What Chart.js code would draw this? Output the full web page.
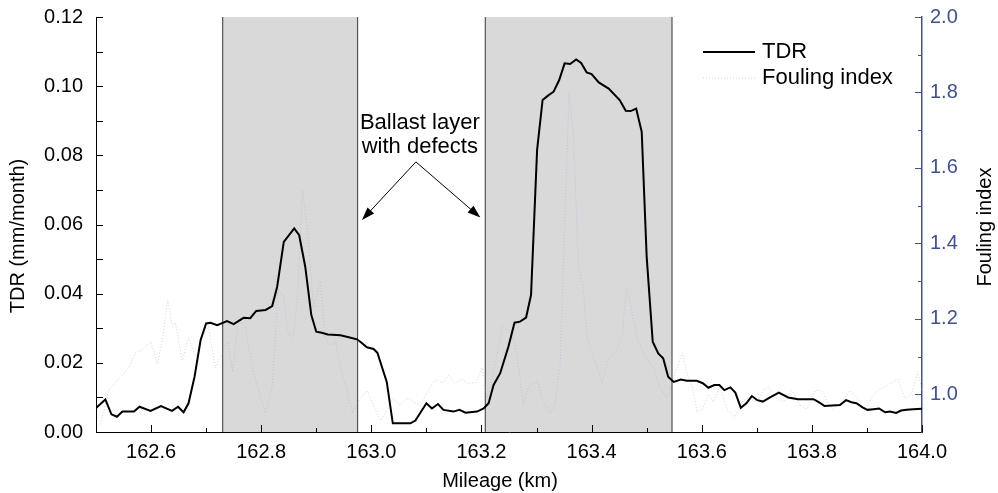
<!DOCTYPE html>
<html>
<head>
<meta charset="utf-8">
<script src="https://cdn.jsdelivr.net/npm/chart.js@4.4.1/dist/chart.umd.min.js"></script>
<style>
    html, body { margin: 0; padding: 0; background: #fff; }
</style>
</head>
<body>
<canvas id="myChart" width="998" height="493"></canvas>
<script>
// TDR curve (km, mm/month)
const tdrMileage = [
    162.500, 162.517, 162.528, 162.538, 162.548, 162.569, 162.579, 162.599, 162.618, 162.638,
    162.649, 162.659, 162.668, 162.679, 162.690, 162.700, 162.708, 162.720, 162.738, 162.750,
    162.768, 162.780, 162.791, 162.808, 162.820, 162.829, 162.841, 162.860, 162.869, 162.880,
    162.891, 162.900, 162.910, 162.921, 162.944, 162.959, 162.974, 162.980, 162.992, 163.004,
    163.011, 163.028, 163.039, 163.071, 163.080, 163.100, 163.110, 163.121, 163.131, 163.149,
    163.160, 163.171, 163.192, 163.204, 163.213, 163.222, 163.234, 163.249, 163.260, 163.270,
    163.281, 163.290, 163.301, 163.311, 163.322, 163.331, 163.341, 163.351, 163.361, 163.372,
    163.381, 163.391, 163.400, 163.413, 163.431, 163.451, 163.462, 163.471, 163.481, 163.491,
    163.500, 163.511, 163.521, 163.530, 163.539, 163.549, 163.562, 163.573, 163.591, 163.602,
    163.612, 163.623, 163.632, 163.641, 163.652, 163.661, 163.671, 163.681, 163.691, 163.701,
    163.711, 163.724, 163.740, 163.757, 163.775, 163.803, 163.814, 163.823, 163.851, 163.862,
    163.872, 163.881, 163.892, 163.901, 163.912, 163.922, 163.933, 163.942, 163.953, 163.962,
    163.972, 163.984, 164.000
];
const tdrValues = [
    0.0069, 0.0094, 0.0051, 0.0044, 0.0059, 0.0059, 0.0073, 0.0061, 0.0075, 0.0061,
    0.0073, 0.0057, 0.0083, 0.0160, 0.0266, 0.0314, 0.0316, 0.0309, 0.0321, 0.0312,
    0.0330, 0.0329, 0.0350, 0.0353, 0.0364, 0.0420, 0.0550, 0.0589, 0.0569, 0.0478,
    0.0338, 0.0290, 0.0287, 0.0282, 0.0280, 0.0274, 0.0268, 0.0261, 0.0245, 0.0240,
    0.0229, 0.0145, 0.0025, 0.0025, 0.0033, 0.0083, 0.0068, 0.0081, 0.0064, 0.0059,
    0.0064, 0.0056, 0.0059, 0.0068, 0.0083, 0.0136, 0.0170, 0.0247, 0.0316, 0.0319,
    0.0331, 0.0396, 0.0815, 0.0960, 0.0974, 0.0984, 0.1017, 0.1066, 0.1064, 0.1077,
    0.1067, 0.1040, 0.1035, 0.1011, 0.0993, 0.0960, 0.0929, 0.0928, 0.0935, 0.0868,
    0.0507, 0.0261, 0.0227, 0.0213, 0.0160, 0.0145, 0.0152, 0.0148, 0.0148, 0.0141,
    0.0128, 0.0136, 0.0136, 0.0121, 0.0129, 0.0114, 0.0070, 0.0083, 0.0104, 0.0092,
    0.0088, 0.0100, 0.0114, 0.0100, 0.0095, 0.0095, 0.0085, 0.0075, 0.0078, 0.0092,
    0.0086, 0.0083, 0.0071, 0.0064, 0.0066, 0.0068, 0.0057, 0.0059, 0.0055, 0.0062,
    0.0064, 0.0066, 0.0067
];

// Fouling index curve (km, -)
const foulMileage = [
    162.508, 162.523, 162.559, 162.572, 162.586, 162.599, 162.612, 162.621, 162.630, 162.639,
    162.644, 162.657, 162.668, 162.681, 162.693, 162.704, 162.717, 162.739, 162.748, 162.759,
    162.771, 162.784, 162.795, 162.808, 162.820, 162.831, 162.840, 162.849, 162.858, 162.866,
    162.875, 162.884, 162.895, 162.907, 162.916, 162.925, 162.935, 162.944, 162.956, 162.966,
    162.975, 162.980, 162.993, 163.004, 163.016, 163.025, 163.040, 163.052, 163.065, 163.076,
    163.089, 163.103, 163.116, 163.129, 163.140, 163.152, 163.165, 163.174, 163.189, 163.201,
    163.210, 163.225, 163.238, 163.247, 163.258, 163.267, 163.276, 163.283, 163.292, 163.303,
    163.312, 163.325, 163.334, 163.343, 163.349, 163.359, 163.367, 163.376, 163.385, 163.392,
    163.403, 163.419, 163.430, 163.446, 163.456, 163.463, 163.470, 163.483, 163.494, 163.512,
    163.524, 163.537, 163.548, 163.565, 163.574, 163.583, 163.592, 163.601, 163.612, 163.621,
    163.633, 163.646, 163.660, 163.673, 163.684, 163.700, 163.711, 163.721, 163.733, 163.748,
    163.764, 163.779, 163.791, 163.806, 163.819, 163.828, 163.838, 163.855, 163.869, 163.882,
    163.896, 163.909, 163.920, 163.933, 163.945, 163.956, 163.969, 163.981, 163.992, 164.000
];
const foulValues = [
    0.92, 1.01, 1.07, 1.11, 1.12, 1.14, 1.08, 1.15, 1.25, 1.18,
    1.19, 1.09, 1.15, 1.10, 1.15, 1.18, 1.07, 1.14, 1.06, 1.20,
    1.18, 1.07, 1.01, 0.95, 1.02, 1.28, 1.26, 1.16, 1.15, 1.26,
    1.54, 1.44, 1.23, 1.30, 1.15, 1.13, 1.14, 1.07, 1.01, 0.95,
    0.98, 0.99, 1.01, 0.97, 0.93, 0.95, 0.99, 0.97, 0.99, 0.98,
    0.97, 1.01, 1.04, 1.03, 1.05, 1.03, 1.04, 1.03, 1.03, 1.07,
    0.99, 1.08, 1.18, 1.17, 1.15, 1.08, 0.97, 1.01, 1.03, 1.03,
    0.98, 0.95, 0.98, 1.08, 1.35, 1.80, 1.69, 1.34, 1.28, 1.15,
    1.10, 1.03, 1.09, 1.12, 1.16, 1.28, 1.24, 1.15, 1.11, 1.07,
    1.02, 0.99, 1.04, 1.11, 1.05, 1.02, 0.95, 0.96, 1.00, 0.98,
    1.02, 0.96, 0.94, 0.98, 0.99, 0.98, 1.01, 1.02, 0.99, 0.98,
    1.01, 0.97, 0.96, 1.01, 1.01, 0.98, 0.96, 0.98, 1.01, 0.99,
    0.96, 0.99, 1.01, 1.02, 1.03, 1.04, 0.99, 1.00, 1.06, 1.01
];

const xTicks = [162.6, 162.8, 163.0, 163.2, 163.4, 163.6, 163.8, 164.0];
const tdrTicks = [0, 0.02, 0.04, 0.06, 0.08, 0.10, 0.12];
const foulTicks = [1.0, 1.2, 1.4, 1.6, 1.8, 2.0];

// ballast sections with defects (km)
const defectZones = [[162.73, 162.975], [163.207, 163.546]];
const noteLines = ['Ballast layer', 'with defects'];

const FONT = 'Liberation Sans, Arial, sans-serif';
const BLUE = '#3e4fa3';
const FOUL_COLOR = 'rgba(175, 175, 215, 0.55)';

const shadePlugin = {
    id: 'shade',
    beforeDatasetsDraw(chart) {
        const { ctx, chartArea: a, scales: { x } } = chart;
        ctx.save();
        defectZones.forEach(([s, e]) => {
            const x0 = x.getPixelForValue(s);
            const x1 = x.getPixelForValue(e);
            ctx.fillStyle = '#d9d9d9';
            ctx.fillRect(x0, a.top, x1 - x0, a.bottom - a.top);
            ctx.strokeStyle = '#555';
            ctx.lineWidth = 1.2;
            ctx.beginPath();
            ctx.moveTo(x0, a.top); ctx.lineTo(x0, a.bottom);
            ctx.moveTo(x1, a.top); ctx.lineTo(x1, a.bottom);
            ctx.stroke();
        });
        ctx.restore();
    }
};

function arrow(ctx, x0, y0, x1, y1) {
    const ang = Math.atan2(y1 - y0, x1 - x0);
    const L = 13, W = 4.5;
    ctx.beginPath();
    ctx.moveTo(x0, y0);
    ctx.lineTo(x1 - Math.cos(ang) * L * 0.8, y1 - Math.sin(ang) * L * 0.8);
    ctx.stroke();
    ctx.beginPath();
    ctx.moveTo(x1, y1);
    ctx.lineTo(x1 - Math.cos(ang) * L - Math.sin(ang) * W, y1 - Math.sin(ang) * L + Math.cos(ang) * W);
    ctx.lineTo(x1 - Math.cos(ang) * L + Math.sin(ang) * W, y1 - Math.sin(ang) * L - Math.cos(ang) * W);
    ctx.closePath();
    ctx.fill();
}

function vText(ctx, text, x, y) {
    ctx.save();
    ctx.translate(x, y);
    ctx.rotate(-Math.PI / 2);
    ctx.fillText(text, 0, 0);
    ctx.restore();
}

const decorPlugin = {
    id: 'decor',
    afterDatasetsDraw(chart) {
        const { ctx, chartArea: a, scales: { x, y, y1 } } = chart;
        ctx.save();

        // inward tick marks
        ctx.lineWidth = 1;
        ctx.strokeStyle = '#000';
        ctx.beginPath();
        for (let i = 0; i <= 15; i++) {
            const v = 162.5 + i * 0.1;
            const px = Math.round(x.getPixelForValue(v)) + 0.5;
            const len = xTicks.some(t => Math.abs(t - v) < 1e-6) ? 7 : 4;
            ctx.moveTo(px, a.bottom); ctx.lineTo(px, a.bottom - len);
        }
        for (let i = 0; i <= 12; i++) {
            const py = Math.round(y.getPixelForValue(i * 0.01)) + 0.5;
            ctx.moveTo(a.left, py); ctx.lineTo(a.left + 7, py);
        }
        ctx.stroke();

        ctx.strokeStyle = BLUE;
        ctx.beginPath();
        for (let i = 1; i <= 11; i++) {
            const v = 0.9 + i * 0.1;
            const py = Math.round(y1.getPixelForValue(v)) + 0.5;
            const len = foulTicks.some(t => Math.abs(t - v) < 1e-6) ? 7 : 4;
            ctx.moveTo(a.right, py); ctx.lineTo(a.right - len, py);
        }
        ctx.stroke();

        // annotation
        ctx.fillStyle = '#000';
        ctx.font = '22px ' + FONT;
        ctx.textAlign = 'center';
        ctx.textBaseline = 'middle';
        const tx = x.getPixelForValue(163.088);
        ctx.fillText(noteLines[0], tx, y.getPixelForValue(0.0893));
        ctx.fillText(noteLines[1], tx, y.getPixelForValue(0.0823));
        ctx.strokeStyle = '#000';
        ctx.lineWidth = 1;
        const ax = x.getPixelForValue(163.081), ay = y.getPixelForValue(0.0781);
        arrow(ctx, ax, ay, x.getPixelForValue(162.983), y.getPixelForValue(0.0613));
        arrow(ctx, ax, ay, x.getPixelForValue(163.198), y.getPixelForValue(0.0620));

        // legend
        ctx.textAlign = 'left';
        ctx.font = '22px ' + FONT;
        ctx.lineWidth = 2;
        ctx.strokeStyle = '#000';
        ctx.beginPath(); ctx.moveTo(703, 52); ctx.lineTo(755, 52); ctx.stroke();
        ctx.fillText('TDR', 762, 52);
        ctx.lineWidth = 1;
        ctx.strokeStyle = FOUL_COLOR;
        ctx.setLineDash([1, 2]);
        ctx.beginPath(); ctx.moveTo(703, 78); ctx.lineTo(755, 78); ctx.stroke();
        ctx.setLineDash([]);
        ctx.fillText('Fouling index', 762, 78);

        // axis titles
        ctx.textAlign = 'center';
        ctx.font = '20px ' + FONT;
        ctx.fillText('Mileage (km)', 500, 481);
        vText(ctx, 'TDR (mm/month)', 18, 236);
        vText(ctx, 'Fouling index', 985, 227);
        ctx.restore();
    }
};

const myChart = document.getElementById('myChart').getContext('2d');

const graph = new Chart(myChart, {
    type: 'line',
    data: {
        datasets: [{
            label: 'TDR',
            data: tdrMileage.map((m, i) => ({ x: m, y: tdrValues[i] })),
            borderColor: '#000',
            borderWidth: 2,
            pointRadius: 0,
            tension: 0,
            yAxisID: 'y'
        }, {
            label: 'Fouling index',
            data: foulMileage.map((m, i) => ({ x: m, y: foulValues[i] })),
            borderColor: FOUL_COLOR,
            borderWidth: 1,
            borderDash: [1, 2],
            pointRadius: 0,
            tension: 0,
            yAxisID: 'y1'
        }]
    },
    options: {
        responsive: false,
        animation: false,
        layout: { padding: { top: 17, left: 0, right: 0, bottom: 0 } },
        plugins: { legend: { display: false }, tooltip: { enabled: false } },
        scales: {
            x: {
                type: 'linear',
                min: 162.5,
                max: 164.0,
                afterBuildTicks: s => { s.ticks = xTicks.map(v => ({ value: v })); },
                ticks: {
                    callback: v => v.toFixed(1),
                    font: { family: FONT, size: 20 },
                    color: '#000',
                    padding: 8,
                    maxRotation: 0,
                    autoSkip: false
                },
                grid: { display: false, drawTicks: false },
                border: { color: '#000', width: 1 },
                afterFit: s => { s.height = 61; s.paddingLeft = 0; s.paddingRight = 0; }
            },
            y: {
                position: 'left',
                min: 0,
                max: 0.12,
                afterBuildTicks: s => { s.ticks = tdrTicks.map(v => ({ value: v })); },
                ticks: {
                    callback: v => v.toFixed(2),
                    font: { family: FONT, size: 20 },
                    color: '#000',
                    padding: 13
                },
                grid: { display: false, drawTicks: false },
                border: { color: '#000', width: 1 },
                afterFit: s => { s.width = 96; s.paddingTop = 0; s.paddingBottom = 0; }
            },
            y1: {
                position: 'right',
                min: 0.9,
                max: 2.0,
                afterBuildTicks: s => { s.ticks = foulTicks.map(v => ({ value: v })); },
                ticks: {
                    callback: v => v.toFixed(1),
                    font: { family: FONT, size: 20 },
                    color: BLUE,
                    padding: 8
                },
                grid: { display: false, drawTicks: false },
                border: { color: BLUE, width: 1.5 },
                afterFit: s => { s.width = 76; s.paddingTop = 0; s.paddingBottom = 0; }
            }
        }
    },
    plugins: [shadePlugin, decorPlugin]
});
</script>
</body>
</html>
